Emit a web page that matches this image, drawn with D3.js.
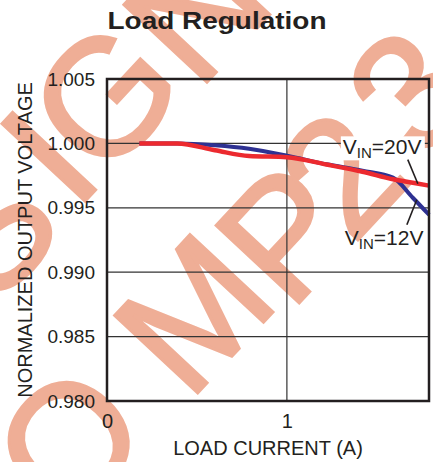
<!DOCTYPE html>
<html>
<head>
<meta charset="utf-8">
<script src="https://cdn.jsdelivr.net/npm/d3@7"></script>
<style>
  html, body { margin: 0; padding: 0; background: #fff; }
  svg { display: block; font-family: "Liberation Sans", Arial, sans-serif; }
</style>
</head>
<body>
<div id="dataviz"></div>
<script>
//----------------
// Data
//----------------

const loadCurrent = [0.18, 0.39, 0.60, 0.79, 1.00, 1.22, 1.42, 1.59, 1.70, 1.79];
const vin12 = [1.0000, 1.0000, 0.99986, 0.99959, 0.99905, 0.99838, 0.99788, 0.99734, 0.99578, 0.99446];
const vin20 = [1.0000, 1.0000, 0.99947, 0.99902, 0.99893, 0.99836, 0.99780, 0.99722, 0.99695, 0.99672];

const yTicks = [0.980, 0.985, 0.990, 0.995, 1.000, 1.005];
const xTicks = [0, 1];

// callouts, in data units
const labels = [
  {name: "20", x: 1.311, y: 0.99915, from: [1.672, 0.99874], to: [1.728, 0.99687], boxed: true},
  {name: "12", x: 1.322, y: 0.99213, from: [1.722, 0.99563], to: [1.667, 0.99369], boxed: false}
];

// watermark glyphs (not data, just the stamp behind the chart)
const stamp = [
  {ch: "S", x: -12, y: 228}, {ch: "I", x: 47, y: 155}, {ch: "G", x: 103, y: 95}, {ch: "N", x: 195, y: 8},
  {ch: "O", x: 67, y: 440}, {ch: "M", x: 192, y: 312}, {ch: "P", x: 284, y: 232},
  {ch: "2", x: 340, y: 172}, {ch: "3", x: 408, y: 90}
];

//----------------
// Costants
//----------------

const width = 433, height = 462;
const margin = {top: 79, right: 4, bottom: 61, left: 107};
const textColor = "#231f20";
const red = "#ec2a2f", blue = "#2e3192";

//----------------
// Draw functions
//----------------

function drawStamp(svg) {
  var g = svg.append("g").attr("id", "stamp");
  g.selectAll("text")
    .data(stamp)
    .enter().append("text")
      .attr("transform", d => "translate(" + d.x + "," + d.y + ") rotate(-47)")
      .attr("text-anchor", "middle")
      .attr("y", 165 * 0.36)
      .style("font-size", "165px")
      .attr("fill", "#efae96")
      .attr("stroke", "#efae96")
      .attr("stroke-width", 3)
      .text(d => d.ch);
}

function drawChart(svg, x, y) {
  var w = x.range()[1], h = y.range()[0];

  svg.append("text")
    .attr("x", 217).attr("y", 29)
    .attr("text-anchor", "middle")
    .attr("textLength", 219).attr("lengthAdjust", "spacingAndGlyphs")
    .style("font-size", "24px").style("font-weight", "bold")
    .attr("fill", textColor)
    .text("Load Regulation");

  // grid
  svg.append("g").attr("id", "grid")
    .selectAll("line.h")
    .data(yTicks.slice(1, -1))
    .enter().append("line")
      .attr("x1", x.range()[0]).attr("x2", w)
      .attr("y1", d => y(d)).attr("y2", d => y(d))
      .attr("stroke", "#333").attr("stroke-width", 1.2);

  svg.select("#grid").selectAll("line.v")
    .data([1]).enter().append("line")
      .attr("x1", d => x(d)).attr("x2", d => x(d))
      .attr("y1", y.range()[1]).attr("y2", h)
      .attr("stroke", "#333").attr("stroke-width", 1.2);

  // axes
  var yAxis = svg.append("g")
    .attr("transform", "translate(" + x.range()[0] + ",0)")
    .call(d3.axisLeft(y).tickValues(yTicks).tickFormat(d3.format(".3f")).tickSize(0).tickPadding(12));
  yAxis.select(".domain").remove();
  yAxis.selectAll("text").style("font-size", "19px").attr("fill", textColor).attr("font-family", null);

  var xAxis = svg.append("g")
    .attr("transform", "translate(0," + h + ")")
    .call(d3.axisBottom(x).tickValues(xTicks).tickFormat(d3.format("d")).tickSize(0).tickPadding(13));
  xAxis.select(".domain").remove();
  xAxis.selectAll("text").style("font-size", "20px").attr("fill", textColor).attr("font-family", null);

  svg.append("text")
    .attr("x", (x.range()[0] + w) / 2).attr("y", 455)
    .attr("text-anchor", "middle")
    .style("font-size", "20px").attr("fill", textColor)
    .text("LOAD CURRENT (A)");

  svg.append("text")
    .attr("transform", "translate(32," + (y.range()[1] + h) / 2 + ") rotate(-90)")
    .attr("text-anchor", "middle")
    .style("font-size", "20px").attr("fill", textColor)
    .text("NORMALIZED OUTPUT VOLTAGE");

  // series
  var line = d3.line()
    .x((d, i) => x(loadCurrent[i]))
    .y(d => y(d))
    .curve(d3.curveMonotoneX);

  svg.append("path").datum(vin12)
    .attr("d", line).attr("fill", "none")
    .attr("stroke", blue).attr("stroke-width", 4);
  svg.append("path").datum(vin20)
    .attr("d", line).attr("fill", "none")
    .attr("stroke", red).attr("stroke-width", 4.5);

  // frame
  svg.append("rect")
    .attr("x", x.range()[0]).attr("y", y.range()[1])
    .attr("width", w - x.range()[0]).attr("height", h - y.range()[1])
    .attr("fill", "none").attr("stroke", textColor).attr("stroke-width", 2.5);

  // callouts
  var ann = svg.append("g").attr("id", "labels");
  labels.forEach(function(l) {
    if (l.boxed) {
      ann.append("rect")
        .attr("x", x(l.x) - 2).attr("y", y(l.y) - 18)
        .attr("width", 84).attr("height", 24)
        .attr("fill", "#fff");
    }
    var t = ann.append("text")
      .attr("x", x(l.x)).attr("y", y(l.y))
      .style("font-size", "21px").attr("fill", textColor);
    t.append("tspan").text("V");
    t.append("tspan").attr("dy", 4).style("font-size", "15px").text("IN");
    t.append("tspan").attr("dy", -4).text("=" + l.name + "V");

    ann.append("line")
      .attr("x1", x(l.from[0])).attr("y1", y(l.from[1]))
      .attr("x2", x(l.to[0])).attr("y2", y(l.to[1]))
      .attr("stroke", textColor).attr("stroke-width", 1.6);
  });
}

//----------------
// Main
//----------------

function main() {
  var svg = d3.select("#dataviz")
    .append("svg")
    .attr("width", width)
    .attr("height", height);

  var x = d3.scaleLinear()
    .domain([0, 1.79])
    .range([margin.left, width - margin.right]);

  var y = d3.scaleLinear()
    .domain([0.980, 1.005])
    .range([height - margin.bottom, margin.top]);

  drawStamp(svg);
  drawChart(svg, x, y);
}

main();
</script>
</body>
</html>
